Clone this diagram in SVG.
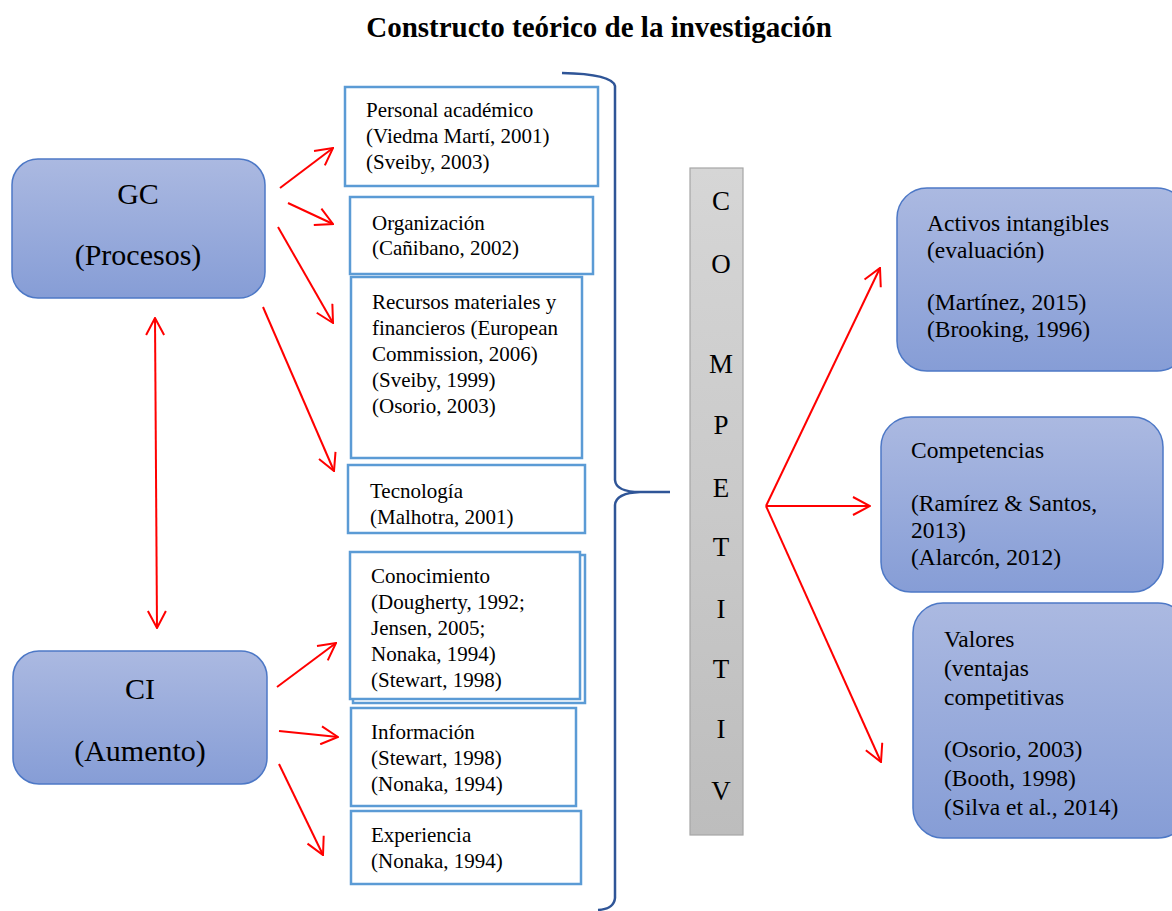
<svg xmlns="http://www.w3.org/2000/svg" width="1172" height="911" viewBox="0 0 1172 911">
<defs>
<linearGradient id="blueG" x1="0" y1="0" x2="0" y2="1">
<stop offset="0" stop-color="#abb9e1"/>
<stop offset="1" stop-color="#869dd6"/>
</linearGradient>
<linearGradient id="grayG" x1="0" y1="0" x2="0" y2="1">
<stop offset="0" stop-color="#d6d6d6"/>
<stop offset="1" stop-color="#bdbdbd"/>
</linearGradient>
<marker id="ah" viewBox="0 0 20 20" refX="19" refY="10" markerWidth="20" markerHeight="20" markerUnits="userSpaceOnUse" orient="auto-start-reverse">
<path d="M2,1 L19,10 L2,19" fill="none" stroke="#ff0000" stroke-width="2"/>
</marker>
<style>
text{font-family:"Liberation Serif","Times New Roman",serif;fill:#000}
.title{font-size:29px;font-weight:bold}
.big{font-size:30px}
.mid{font-size:21px}
.rt{font-size:23.5px}
.let{font-size:27px}
.bluebox{fill:url(#blueG);stroke:#4d78c6;stroke-width:1.5}
.mbox{fill:#fff;stroke:#5b9bd5;stroke-width:2.5}
.arr{stroke:#ff0000;stroke-width:2;fill:none;marker-end:url(#ah)}
</style>
</defs>
<rect width="1172" height="911" fill="#fff"/>
<text class="title" x="599" y="37" text-anchor="middle">Constructo teórico de la investigación</text>

<g id="gc">
<rect class="bluebox" x="12" y="159" width="253" height="139" rx="26"/>
<text class="big" x="138" y="204" text-anchor="middle">GC</text>
<text class="big" x="138" y="265" text-anchor="middle">(Procesos)</text>
</g>
<g id="ci">
<rect class="bluebox" x="13" y="651" width="254" height="133" rx="26"/>
<text class="big" x="140" y="699" text-anchor="middle">CI</text>
<text class="big" x="140" y="761" text-anchor="middle">(Aumento)</text>
</g>

<g id="personal">
<rect class="mbox" x="345" y="87" width="253" height="99"/>
<text class="mid" x="366" y="117">Personal académico</text>
<text class="mid" x="366" y="143">(Viedma Martí, 2001)</text>
<text class="mid" x="366" y="169">(Sveiby, 2003)</text>
</g>
<g id="organizacion">
<rect class="mbox" x="350" y="197" width="243" height="77"/>
<text class="mid" x="372" y="230">Organización</text>
<text class="mid" x="372" y="255">(Cañibano, 2002)</text>
</g>
<g id="recursos">
<rect class="mbox" x="351" y="277" width="231" height="181"/>
<text class="mid" x="372" y="309">Recursos materiales y</text>
<text class="mid" x="372" y="335">financieros (European</text>
<text class="mid" x="372" y="361">Commission, 2006)</text>
<text class="mid" x="372" y="387">(Sveiby, 1999)</text>
<text class="mid" x="372" y="413">(Osorio, 2003)</text>
</g>
<g id="tecnologia">
<rect class="mbox" x="348" y="465" width="237" height="68"/>
<text class="mid" x="370" y="498">Tecnología</text>
<text class="mid" x="370" y="524">(Malhotra, 2001)</text>
</g>
<g id="conocimiento">
<rect class="mbox" x="353" y="555" width="232" height="148"/>
<rect class="mbox" x="350" y="552" width="230" height="147"/>
<text class="mid" x="371" y="583">Conocimiento</text>
<text class="mid" x="371" y="609">(Dougherty, 1992;</text>
<text class="mid" x="371" y="635">Jensen, 2005;</text>
<text class="mid" x="371" y="661">Nonaka, 1994)</text>
<text class="mid" x="371" y="687">(Stewart, 1998)</text>
</g>
<g id="informacion">
<rect class="mbox" x="351" y="708" width="225" height="98"/>
<text class="mid" x="371" y="739">Información</text>
<text class="mid" x="371" y="765">(Stewart, 1998)</text>
<text class="mid" x="371" y="791">(Nonaka, 1994)</text>
</g>
<g id="experiencia">
<rect class="mbox" x="351" y="811" width="230" height="73"/>
<text class="mid" x="371" y="842">Experiencia</text>
<text class="mid" x="371" y="868">(Nonaka, 1994)</text>
</g>

<g id="brace">
<path d="M562,73 Q612,74 615,86 L615,480 Q616,492 640,492 L670,492 M640,492 Q616,493 615,505 L615,898 Q614,909 598,910" fill="none" stroke="#2f5597" stroke-width="2.5"/>
</g>

<g id="competitiv">
<rect x="690" y="168" width="53" height="667" fill="url(#grayG)" stroke="#a6a6a6" stroke-width="1.2"/>
<g class="let" text-anchor="middle">
<text class="let" x="721" y="210" text-anchor="middle">C</text>
<text class="let" x="721" y="273" text-anchor="middle">O</text>
<text class="let" x="721" y="373" text-anchor="middle">M</text>
<text class="let" x="721" y="434" text-anchor="middle">P</text>
<text class="let" x="721" y="497" text-anchor="middle">E</text>
<text class="let" x="721" y="556" text-anchor="middle">T</text>
<text class="let" x="721" y="618" text-anchor="middle">I</text>
<text class="let" x="721" y="678" text-anchor="middle">T</text>
<text class="let" x="721" y="738" text-anchor="middle">I</text>
<text class="let" x="721" y="800" text-anchor="middle">V</text>
</g>
</g>

<g id="activos">
<rect class="bluebox" x="897" y="188" width="290" height="183" rx="30"/>
<text class="rt" x="927" y="231">Activos intangibles</text>
<text class="rt" x="927" y="258">(evaluación)</text>
<text class="rt" x="927" y="310">(Martínez, 2015)</text>
<text class="rt" x="927" y="337">(Brooking, 1996)</text>
</g>
<g id="competencias">
<rect class="bluebox" x="881" y="417" width="282" height="175" rx="30"/>
<text class="rt" x="911" y="458">Competencias</text>
<text class="rt" x="911" y="511">(Ramírez &amp; Santos,</text>
<text class="rt" x="911" y="538">2013)</text>
<text class="rt" x="911" y="565">(Alarcón, 2012)</text>
</g>
<g id="valores">
<rect class="bluebox" x="913" y="603" width="275" height="235" rx="30"/>
<text class="rt" x="944" y="647">Valores</text>
<text class="rt" x="944" y="676">(ventajas</text>
<text class="rt" x="944" y="705">competitivas</text>
<text class="rt" x="944" y="757">(Osorio, 2003)</text>
<text class="rt" x="944" y="786">(Booth, 1998)</text>
<text class="rt" x="944" y="815">(Silva et al., 2014)</text>
</g>

<g id="connectors">
<path class="arr" d="M280,188 L333,148"/>
<path class="arr" d="M288,203 L333,224"/>
<path class="arr" d="M278,227 L333,323"/>
<path class="arr" d="M263,307 L334,471"/>
<path class="arr" d="M155,318 L157,628" style="marker-start:url(#ah)"/>
<path class="arr" d="M277,687 L336,643"/>
<path class="arr" d="M279,731 L338,737"/>
<path class="arr" d="M279,764 L323,855"/>
<path class="arr" d="M766,506 L880,268"/>
<path class="arr" d="M766,506 L870,506"/>
<path class="arr" d="M766,506 L881,762"/>
</g>
</svg>
